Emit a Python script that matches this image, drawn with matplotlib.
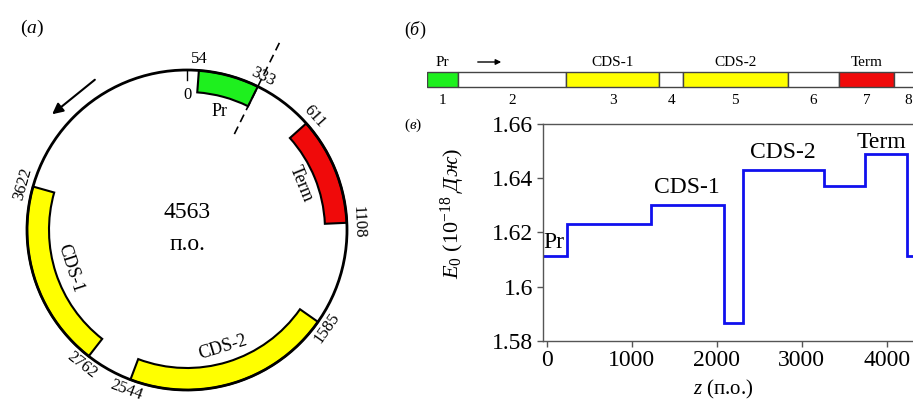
import numpy as np
import matplotlib
matplotlib.use("Agg")
import matplotlib.pyplot as plt
from matplotlib.patches import Wedge, Circle, FancyArrowPatch

plt.rcParams['font.family'] = ['Liberation Serif', 'DejaVu Serif']
plt.rcParams['mathtext.fontset'] = 'custom'
plt.rcParams['mathtext.rm'] = 'Liberation Serif'
plt.rcParams['mathtext.it'] = 'Liberation Serif:italic'

W, H = 913, 403

# --- plasmid map (bp) ---
plasmid_len = 4563
feat_names = ['Pr', 'Term', 'CDS-2', 'CDS-1']
feat_start = [54, 611, 1585, 2762]
feat_end = [333, 1108, 2544, 3622]
feat_colors = ['#1ef01e', '#f00a0a', '#ffff00', '#ffff00']
map_ticks = [54, 333, 611, 1108, 1585, 2544, 2762, 3622]

# --- linear scheme (read counter-clockwise from 333) ---
seg_len = [279, 995, 860, 218, 959, 477, 497, 278]
seg_colors = ['#1ef01e', 'white', '#ffff00', 'white', '#ffff00', 'white', '#f00a0a', 'white']
seg_names = ['Pr', '', 'CDS-1', '', 'CDS-2', '', 'Term', '']

# --- energy profile ---
z_edges = [-47, 235, 1226, 2090, 2304, 3266, 3740, 4242, 4520]
E0 = [1.6114, 1.6231, 1.6301, 1.5866, 1.6429, 1.6370, 1.6489, 1.6114]
step_labels = ['Pr', 'CDS-1', 'CDS-2', 'Term']
step_label_z = [-40, 1647, 2780, 3941]
step_label_E = [1.6162, 1.6367, 1.6493, 1.6530]


def px(x, y):
    return x / W, 1 - y / H


fig = plt.figure(figsize=(W / 100, H / 100), dpi=100)

# ---------------- (a) circular map ----------------
axa = fig.add_axes([0, 0, 400 / W, 1])
axa.set_xlim(0, 400)
axa.set_ylim(H, 0)
axa.axis('off')

cx, cy, R, band = 187, 230, 160, 22


def ang(p):
    return p / plasmid_len * 360.0


def pt(p, r):
    phi = np.radians(ang(p))
    return cx + r * np.sin(phi), cy - r * np.cos(phi)


def tang_rot(p):
    a = ang(p)
    rot = -a
    if 90 < a < 270:
        rot += 180
    return rot


for s, e, c in zip(feat_start, feat_end, feat_colors):
    axa.add_patch(Wedge((cx, cy), R, ang(s) - 90, ang(e) - 90, width=band,
                        fc=c, ec='black', lw=1.5, zorder=2))
axa.add_patch(Circle((cx, cy), R, fill=False, ec='black', lw=2, zorder=3))

# zero mark
x0, y0 = pt(0, R)
x1, y1 = pt(0, R - 10)
axa.plot([x0, x1], [y0, y1], color='black', lw=1)
xt, yt = pt(0, R - 25)
axa.text(xt, yt, '0', ha='center', va='center', fontsize=12)

# dashed line at 333
xa, ya = pt(333, 107)
xb, yb = pt(333, 212)
axa.plot([xa, xb], [ya, yb], color='black', lw=1.2, ls=(0, (5, 3)), zorder=4)

for p in map_ticks:
    xt, yt = pt(p, 171)
    rot = tang_rot(p) if p != 54 else 0
    axa.text(xt, yt, str(p), ha='center', va='center', fontsize=12,
             rotation=rot, rotation_mode='anchor')

for name, s, e in zip(feat_names, feat_start, feat_end):
    mid = (s + e) / 2
    xt, yt = pt(mid, 123)
    rot = 0 if name == 'Pr' else tang_rot(mid)
    axa.text(xt, yt, name, ha='center', va='center', fontsize=13,
             rotation=rot, rotation_mode='anchor')

axa.text(cx, 212, str(plasmid_len), ha='center', va='center', fontsize=17)
axa.text(cx, 245, 'п.о.', ha='center', va='center', fontsize=17)

axa.add_patch(FancyArrowPatch((97, 78), (50, 116), arrowstyle='-|>',
                              mutation_scale=16, lw=1.5, color='black'))

fig.text(*px(32, 28), '($a$)', ha='center', va='center', fontsize=14)

# ---------------- (б) linear scheme ----------------
bx0 = 427.3
scale_b = 0.1088  # px per bp
axb = fig.add_axes([bx0 / W, 1 - 112 / H, (W - bx0) / W, 92 / H])
axb.set_xlim(0, (W - bx0) / scale_b)
axb.set_ylim(112, 20)
axb.axis('off')

starts = np.concatenate([[0], np.cumsum(seg_len)[:-1]])
axb.barh(79.5, seg_len, left=starts, height=15, color=seg_colors,
         edgecolor='#444444', linewidth=1)
for i, (s, l) in enumerate(zip(starts, seg_len)):
    c = s + l / 2
    axb.text(c, 101, str(i + 1), ha='center', va='center', fontsize=11)
    if seg_names[i]:
        axb.text(c, 62, seg_names[i], ha='center', va='center', fontsize=11)

fig.add_artist(FancyArrowPatch(px(475, 62), px(504, 62), transform=fig.transFigure,
                               arrowstyle='-|>', mutation_scale=8, lw=1, color='black'))
fig.text(*px(415, 30), r'($\mathit{б}$)', ha='center', va='center', fontsize=13)

# ---------------- (в) energy profile ----------------
l, r, t, b = 542.7, W, 124, 340.7
scale_c = 0.085
axc = fig.add_axes([l / W, 1 - b / H, (r - l) / W, (b - t) / H])
axc.stairs(E0, z_edges, color='#1010ee', lw=2, baseline=None)
axc.set_xlim(-47, -47 + (r - l) / scale_c)
axc.set_ylim(1.58, 1.66)
axc.set_yticks([1.58, 1.60, 1.62, 1.64, 1.66])
axc.set_yticklabels(['1.58', '1.6', '1.62', '1.64', '1.66'])
axc.set_xticks([0, 1000, 2000, 3000, 4000])
axc.tick_params(labelsize=17, length=4, width=1, color='#555555', direction='out', pad=3)
for side in ['left', 'bottom', 'top']:
    axc.spines[side].set_color('#555555')
    axc.spines[side].set_linewidth(1)
axc.spines['right'].set_visible(False)

for txt, z, e in zip(step_labels, step_label_z, step_label_E):
    axc.text(z, e, txt, ha='left' if txt == 'Pr' else 'center', va='center', fontsize=17)

axc.set_ylabel(r'$E_0$ (10$^{-18}$ $\mathit{Дж}$)', fontsize=16)
axc.yaxis.set_label_coords(-0.205, 0.59)
axc.set_xlabel(r'$z$ (п.о.)', fontsize=15)
axc.xaxis.set_label_coords(0.489, -0.17)

fig.text(*px(413, 125), r'($\mathit{в}$)', ha='center', va='center', fontsize=11)

fig.savefig('out.png', dpi=100)
